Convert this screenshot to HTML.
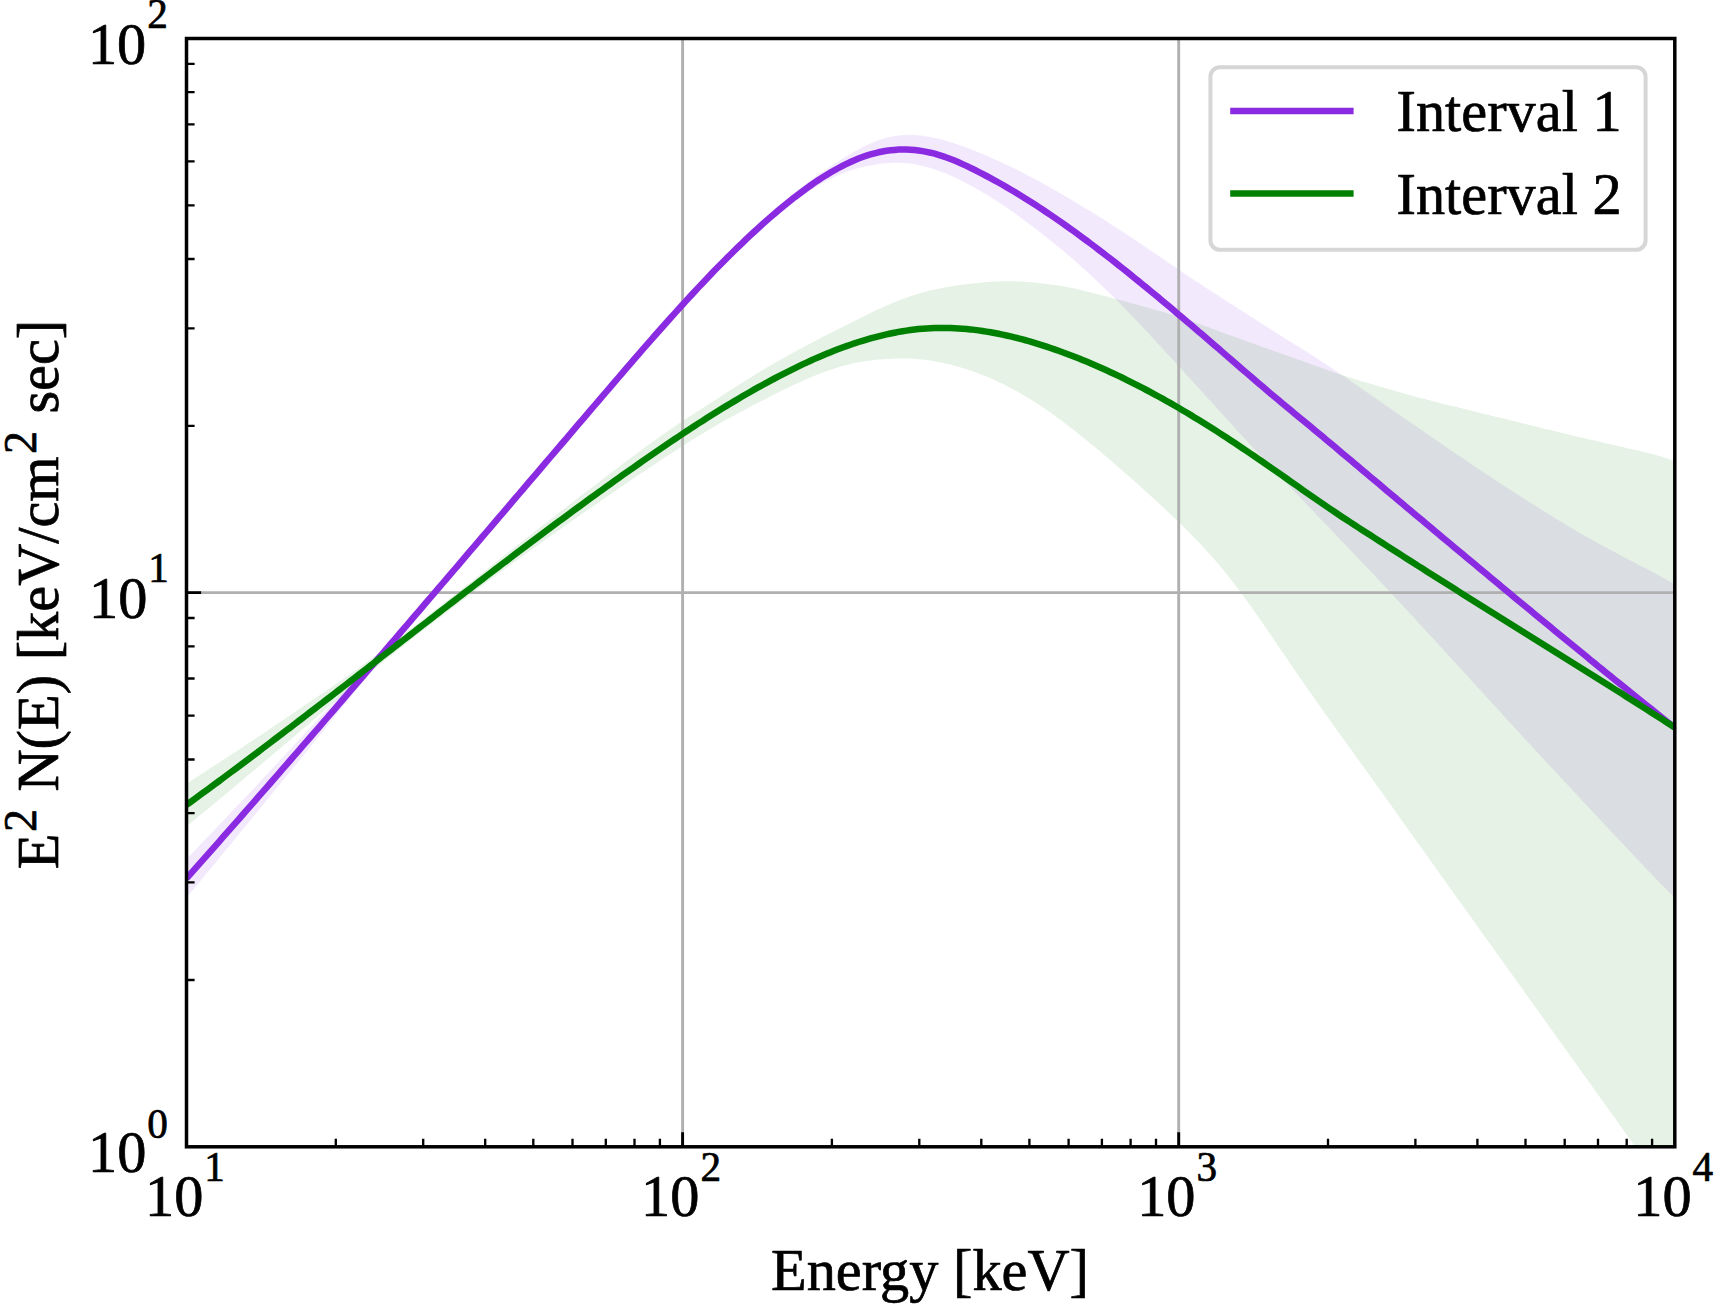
<!DOCTYPE html>
<html><head><meta charset="utf-8"><title>Energy spectrum</title>
<style>html,body{margin:0;padding:0;background:#fff}svg{display:block}text{font-family:"Liberation Serif","Times New Roman",serif;fill:#000;stroke:#000;stroke-width:0.7px;stroke-linejoin:round}</style>
</head><body>
<svg width="1718" height="1305" viewBox="0 0 1718 1305">
<rect width="1718" height="1305" fill="#fff"/>
<defs><clipPath id="ax"><rect x="186.5" y="38.5" width="1488.3" height="1108.3"/></clipPath></defs>
<g clip-path="url(#ax)">
<path d="M186.5,859.2 L190.5,854.9 L194.5,850.7 L198.5,846.5 L202.5,842.3 L206.5,838.1 L210.5,834.0 L214.5,829.8 L218.5,825.6 L222.5,821.4 L226.5,817.2 L230.5,813.0 L234.5,808.8 L238.5,804.6 L242.5,800.4 L246.5,796.2 L250.5,791.9 L254.5,787.7 L258.5,783.4 L262.5,779.1 L266.5,774.8 L270.5,770.5 L274.5,766.2 L278.5,761.9 L282.5,757.6 L286.5,753.3 L290.5,748.9 L294.5,744.6 L298.5,740.3 L302.5,736.0 L306.5,731.7 L310.5,727.4 L314.5,723.1 L318.5,718.8 L322.5,714.6 L326.5,710.3 L330.5,706.0 L334.5,701.7 L338.5,697.4 L342.5,693.1 L346.5,688.8 L350.5,684.4 L354.5,680.1 L358.5,675.7 L362.5,671.2 L366.5,666.8 L370.5,662.3 L374.5,657.8 L378.5,653.3 L382.5,648.7 L386.5,644.2 L390.5,639.6 L394.5,635.0 L398.5,630.4 L402.5,625.8 L406.5,621.2 L410.5,616.6 L414.5,612.0 L418.5,607.4 L422.5,602.8 L426.5,598.1 L430.5,593.5 L434.5,588.9 L438.5,584.2 L442.5,579.6 L446.5,574.9 L450.5,570.3 L454.5,565.6 L458.5,561.0 L462.5,556.3 L466.5,551.7 L470.5,547.0 L474.5,542.4 L478.5,537.7 L482.5,533.0 L486.5,528.4 L490.5,523.7 L494.5,519.0 L498.5,514.4 L502.5,509.7 L506.5,505.0 L510.5,500.3 L514.5,495.7 L518.5,491.0 L522.5,486.3 L526.5,481.6 L530.5,476.9 L534.5,472.3 L538.5,467.6 L542.5,462.9 L546.5,458.2 L550.5,453.5 L554.5,448.8 L558.5,444.1 L562.5,439.5 L566.5,434.8 L570.5,430.1 L574.5,425.4 L578.5,420.7 L582.5,416.1 L586.5,411.4 L590.5,406.7 L594.5,402.0 L598.5,397.3 L602.5,392.7 L606.5,388.0 L610.5,383.3 L614.5,378.7 L618.5,374.0 L622.5,369.3 L626.5,364.7 L630.5,360.1 L634.5,355.4 L638.5,350.8 L642.5,346.2 L646.5,341.6 L650.5,337.1 L654.5,332.5 L658.5,328.0 L662.5,323.4 L666.5,318.9 L670.5,314.5 L674.5,310.0 L678.5,305.6 L682.5,301.1 L686.5,296.8 L690.5,292.4 L694.5,288.1 L698.5,283.8 L702.5,279.5 L706.5,275.2 L710.5,271.0 L714.5,266.9 L718.5,262.7 L722.5,258.6 L726.5,254.6 L730.5,250.6 L734.5,246.6 L738.5,242.7 L742.5,238.8 L746.5,234.9 L750.5,231.1 L754.5,227.4 L758.5,223.7 L762.5,220.0 L766.5,216.4 L770.5,212.9 L774.5,209.4 L778.5,205.9 L782.5,202.5 L786.5,199.2 L790.5,195.9 L794.5,192.7 L798.5,189.5 L802.5,186.4 L806.5,183.4 L810.5,180.4 L814.5,177.5 L818.5,174.6 L822.5,171.8 L826.5,169.0 L830.5,166.4 L834.5,163.7 L838.5,161.2 L842.5,158.7 L846.5,156.2 L850.5,153.9 L854.5,151.6 L858.5,149.4 L862.5,147.3 L866.5,145.3 L870.5,143.5 L874.5,141.8 L878.5,140.3 L882.5,139.0 L886.5,137.8 L890.5,136.9 L894.5,136.1 L898.5,135.5 L902.5,135.1 L906.5,134.9 L910.5,134.9 L914.5,135.0 L918.5,135.3 L922.5,135.8 L926.5,136.4 L930.5,137.1 L934.5,137.9 L938.5,138.8 L942.5,139.8 L946.5,141.0 L950.5,142.2 L954.5,143.4 L958.5,144.8 L962.5,146.2 L966.5,147.6 L970.5,149.2 L974.5,150.7 L978.5,152.3 L982.5,154.0 L986.5,155.7 L990.5,157.4 L994.5,159.2 L998.5,161.0 L1002.5,162.8 L1006.5,164.7 L1010.5,166.6 L1014.5,168.6 L1018.5,170.6 L1022.5,172.6 L1026.5,174.7 L1030.5,176.8 L1034.5,178.9 L1038.5,181.1 L1042.5,183.2 L1046.5,185.5 L1050.5,187.7 L1054.5,190.0 L1058.5,192.2 L1062.5,194.6 L1066.5,196.9 L1070.5,199.2 L1074.5,201.6 L1078.5,204.0 L1082.5,206.4 L1086.5,208.9 L1090.5,211.3 L1094.5,213.8 L1098.5,216.3 L1102.5,218.8 L1106.5,221.3 L1110.5,223.9 L1114.5,226.5 L1118.5,229.1 L1122.5,231.7 L1126.5,234.3 L1130.5,237.0 L1134.5,239.6 L1138.5,242.3 L1142.5,245.0 L1146.5,247.7 L1150.5,250.4 L1154.5,253.1 L1158.5,255.8 L1162.5,258.5 L1166.5,261.3 L1170.5,264.0 L1174.5,266.7 L1178.5,269.5 L1182.5,272.2 L1186.5,274.9 L1190.5,277.5 L1194.5,280.2 L1198.5,282.8 L1202.5,285.5 L1206.5,288.1 L1210.5,290.7 L1214.5,293.2 L1218.5,295.8 L1222.5,298.4 L1226.5,300.9 L1230.5,303.5 L1234.5,306.1 L1238.5,308.7 L1242.5,311.2 L1246.5,313.8 L1250.5,316.4 L1254.5,319.0 L1258.5,321.5 L1262.5,324.1 L1266.5,326.6 L1270.5,329.2 L1274.5,331.7 L1278.5,334.2 L1282.5,336.7 L1286.5,339.2 L1290.5,341.7 L1294.5,344.2 L1298.5,346.7 L1302.5,349.2 L1306.5,351.7 L1310.5,354.2 L1314.5,356.8 L1318.5,359.4 L1322.5,362.0 L1326.5,364.6 L1330.5,367.3 L1334.5,370.0 L1338.5,372.7 L1342.5,375.4 L1346.5,378.1 L1350.5,380.9 L1354.5,383.6 L1358.5,386.4 L1362.5,389.2 L1366.5,392.0 L1370.5,394.8 L1374.5,397.6 L1378.5,400.3 L1382.5,403.1 L1386.5,405.9 L1390.5,408.7 L1394.5,411.5 L1398.5,414.3 L1402.5,417.1 L1406.5,419.8 L1410.5,422.6 L1414.5,425.3 L1418.5,428.1 L1422.5,430.8 L1426.5,433.6 L1430.5,436.3 L1434.5,439.1 L1438.5,441.8 L1442.5,444.5 L1446.5,447.3 L1450.5,450.0 L1454.5,452.7 L1458.5,455.4 L1462.5,458.1 L1466.5,460.8 L1470.5,463.5 L1474.5,466.2 L1478.5,468.9 L1482.5,471.5 L1486.5,474.2 L1490.5,476.8 L1494.5,479.5 L1498.5,482.1 L1502.5,484.7 L1506.5,487.3 L1510.5,489.9 L1514.5,492.5 L1518.5,495.1 L1522.5,497.6 L1526.5,500.2 L1530.5,502.8 L1534.5,505.3 L1538.5,507.8 L1542.5,510.3 L1546.5,512.8 L1550.5,515.3 L1554.5,517.8 L1558.5,520.2 L1562.5,522.6 L1566.5,525.1 L1570.5,527.4 L1574.5,529.8 L1578.5,532.2 L1582.5,534.5 L1586.5,536.8 L1590.5,539.0 L1594.5,541.3 L1598.5,543.5 L1602.5,545.7 L1606.5,547.8 L1610.5,550.0 L1614.5,552.1 L1618.5,554.3 L1622.5,556.4 L1626.5,558.5 L1630.5,560.5 L1634.5,562.6 L1638.5,564.7 L1642.5,566.8 L1646.5,568.8 L1650.5,570.9 L1654.5,573.0 L1658.5,575.2 L1662.5,577.4 L1666.5,579.7 L1670.5,582.1 L1674.5,584.6 L1674.8,584.4 L1674.8,897.9 L1674.5,897.2 L1670.5,893.5 L1666.5,889.6 L1662.5,885.6 L1658.5,881.5 L1654.5,877.3 L1650.5,873.1 L1646.5,868.9 L1642.5,864.7 L1638.5,860.5 L1634.5,856.2 L1630.5,852.0 L1626.5,847.8 L1622.5,843.5 L1618.5,839.3 L1614.5,835.0 L1610.5,830.7 L1606.5,826.5 L1602.5,822.2 L1598.5,818.0 L1594.5,813.7 L1590.5,809.4 L1586.5,805.1 L1582.5,800.9 L1578.5,796.6 L1574.5,792.3 L1570.5,788.0 L1566.5,783.7 L1562.5,779.4 L1558.5,775.1 L1554.5,770.8 L1550.5,766.5 L1546.5,762.2 L1542.5,757.9 L1538.5,753.6 L1534.5,749.2 L1530.5,744.9 L1526.5,740.6 L1522.5,736.3 L1518.5,731.9 L1514.5,727.6 L1510.5,723.2 L1506.5,718.9 L1502.5,714.5 L1498.5,710.1 L1494.5,705.8 L1490.5,701.4 L1486.5,697.0 L1482.5,692.6 L1478.5,688.3 L1474.5,683.9 L1470.5,679.5 L1466.5,675.1 L1462.5,670.7 L1458.5,666.3 L1454.5,662.0 L1450.5,657.6 L1446.5,653.2 L1442.5,648.8 L1438.5,644.5 L1434.5,640.1 L1430.5,635.7 L1426.5,631.4 L1422.5,627.0 L1418.5,622.7 L1414.5,618.3 L1410.5,614.0 L1406.5,609.7 L1402.5,605.4 L1398.5,601.1 L1394.5,596.8 L1390.5,592.5 L1386.5,588.2 L1382.5,584.0 L1378.5,579.7 L1374.5,575.5 L1370.5,571.3 L1366.5,567.1 L1362.5,562.9 L1358.5,558.7 L1354.5,554.5 L1350.5,550.3 L1346.5,546.1 L1342.5,541.9 L1338.5,537.7 L1334.5,533.5 L1330.5,529.3 L1326.5,525.1 L1322.5,520.9 L1318.5,516.7 L1314.5,512.5 L1310.5,508.3 L1306.5,504.2 L1302.5,500.0 L1298.5,495.8 L1294.5,491.7 L1290.5,487.5 L1286.5,483.3 L1282.5,479.1 L1278.5,474.9 L1274.5,470.7 L1270.5,466.5 L1266.5,462.2 L1262.5,457.9 L1258.5,453.6 L1254.5,449.3 L1250.5,445.0 L1246.5,440.6 L1242.5,436.3 L1238.5,431.9 L1234.5,427.5 L1230.5,423.1 L1226.5,418.7 L1222.5,414.3 L1218.5,409.9 L1214.5,405.5 L1210.5,401.1 L1206.5,396.7 L1202.5,392.3 L1198.5,387.9 L1194.5,383.5 L1190.5,379.1 L1186.5,374.7 L1182.5,370.3 L1178.5,366.0 L1174.5,361.6 L1170.5,357.2 L1166.5,352.9 L1162.5,348.5 L1158.5,344.2 L1154.5,339.9 L1150.5,335.6 L1146.5,331.3 L1142.5,327.0 L1138.5,322.8 L1134.5,318.6 L1130.5,314.4 L1126.5,310.3 L1122.5,306.2 L1118.5,302.1 L1114.5,298.1 L1110.5,294.1 L1106.5,290.2 L1102.5,286.3 L1098.5,282.5 L1094.5,278.7 L1090.5,275.0 L1086.5,271.3 L1082.5,267.7 L1078.5,264.1 L1074.5,260.6 L1070.5,257.1 L1066.5,253.7 L1062.5,250.3 L1058.5,247.0 L1054.5,243.8 L1050.5,240.5 L1046.5,237.4 L1042.5,234.2 L1038.5,231.1 L1034.5,228.0 L1030.5,224.9 L1026.5,221.9 L1022.5,218.9 L1018.5,216.0 L1014.5,213.1 L1010.5,210.3 L1006.5,207.6 L1002.5,204.9 L998.5,202.2 L994.5,199.6 L990.5,197.1 L986.5,194.6 L982.5,192.2 L978.5,189.9 L974.5,187.6 L970.5,185.4 L966.5,183.3 L962.5,181.2 L958.5,179.2 L954.5,177.3 L950.5,175.5 L946.5,173.8 L942.5,172.2 L938.5,170.7 L934.5,169.3 L930.5,168.0 L926.5,166.9 L922.5,165.9 L918.5,165.0 L914.5,164.2 L910.5,163.6 L906.5,163.2 L902.5,162.9 L898.5,162.8 L894.5,162.8 L890.5,162.9 L886.5,163.2 L882.5,163.6 L878.5,164.1 L874.5,164.7 L870.5,165.4 L866.5,166.2 L862.5,167.1 L858.5,168.1 L854.5,169.2 L850.5,170.4 L846.5,171.8 L842.5,173.4 L838.5,175.0 L834.5,176.9 L830.5,178.9 L826.5,181.0 L822.5,183.2 L818.5,185.6 L814.5,188.0 L810.5,190.6 L806.5,193.3 L802.5,196.1 L798.5,199.0 L794.5,202.0 L790.5,205.1 L786.5,208.2 L782.5,211.4 L778.5,214.7 L774.5,218.0 L770.5,221.4 L766.5,224.9 L762.5,228.4 L758.5,231.9 L754.5,235.6 L750.5,239.2 L746.5,243.0 L742.5,246.7 L738.5,250.6 L734.5,254.4 L730.5,258.3 L726.5,262.3 L722.5,266.3 L718.5,270.3 L714.5,274.4 L710.5,278.5 L706.5,282.7 L702.5,286.9 L698.5,291.1 L694.5,295.4 L690.5,299.7 L686.5,304.0 L682.5,308.3 L678.5,312.7 L674.5,317.1 L670.5,321.6 L666.5,326.0 L662.5,330.5 L658.5,335.0 L654.5,339.5 L650.5,344.1 L646.5,348.6 L642.5,353.2 L638.5,357.8 L634.5,362.4 L630.5,367.1 L626.5,371.7 L622.5,376.3 L618.5,381.0 L614.5,385.7 L610.5,390.3 L606.5,395.0 L602.5,399.7 L598.5,404.3 L594.5,409.0 L590.5,413.7 L586.5,418.4 L582.5,423.1 L578.5,427.7 L574.5,432.4 L570.5,437.1 L566.5,441.8 L562.5,446.5 L558.5,451.1 L554.5,455.8 L550.5,460.5 L546.5,465.2 L542.5,469.9 L538.5,474.6 L534.5,479.3 L530.5,484.0 L526.5,488.6 L522.5,493.3 L518.5,498.0 L514.5,502.7 L510.5,507.4 L506.5,512.1 L502.5,516.8 L498.5,521.5 L494.5,526.2 L490.5,530.9 L486.5,535.6 L482.5,540.3 L478.5,545.1 L474.5,549.8 L470.5,554.5 L466.5,559.2 L462.5,563.9 L458.5,568.6 L454.5,573.3 L450.5,578.0 L446.5,582.7 L442.5,587.4 L438.5,592.2 L434.5,596.9 L430.5,601.6 L426.5,606.3 L422.5,611.0 L418.5,615.7 L414.5,620.5 L410.5,625.2 L406.5,629.9 L402.5,634.6 L398.5,639.4 L394.5,644.1 L390.5,648.8 L386.5,653.6 L382.5,658.4 L378.5,663.1 L374.5,667.9 L370.5,672.7 L366.5,677.5 L362.5,682.4 L358.5,687.2 L354.5,692.1 L350.5,697.0 L346.5,701.9 L342.5,706.9 L338.5,711.8 L334.5,716.8 L330.5,721.8 L326.5,726.8 L322.5,731.7 L318.5,736.7 L314.5,741.7 L310.5,746.6 L306.5,751.6 L302.5,756.5 L298.5,761.4 L294.5,766.3 L290.5,771.2 L286.5,776.1 L282.5,781.0 L278.5,785.9 L274.5,790.8 L270.5,795.6 L266.5,800.5 L262.5,805.4 L258.5,810.3 L254.5,815.2 L250.5,820.0 L246.5,824.9 L242.5,829.8 L238.5,834.7 L234.5,839.5 L230.5,844.4 L226.5,849.3 L222.5,854.1 L218.5,859.0 L214.5,863.9 L210.5,868.7 L206.5,873.6 L202.5,878.4 L198.5,883.2 L194.5,888.0 L190.5,892.7 L186.5,897.4Z" fill="#8a2be2" fill-opacity="0.1"/>
<path d="M186.5,783.9 L190.5,781.2 L194.5,778.5 L198.5,775.9 L202.5,773.3 L206.5,770.7 L210.5,768.1 L214.5,765.5 L218.5,762.9 L222.5,760.3 L226.5,757.7 L230.5,755.1 L234.5,752.5 L238.5,749.9 L242.5,747.2 L246.5,744.6 L250.5,741.9 L254.5,739.3 L258.5,736.6 L262.5,733.9 L266.5,731.2 L270.5,728.5 L274.5,725.8 L278.5,723.1 L282.5,720.4 L286.5,717.7 L290.5,715.0 L294.5,712.3 L298.5,709.5 L302.5,706.8 L306.5,704.1 L310.5,701.4 L314.5,698.7 L318.5,696.0 L322.5,693.2 L326.5,690.5 L330.5,687.8 L334.5,685.1 L338.5,682.3 L342.5,679.5 L346.5,676.7 L350.5,673.9 L354.5,671.1 L358.5,668.2 L362.5,665.3 L366.5,662.4 L370.5,659.4 L374.5,656.4 L378.5,653.4 L382.5,650.4 L386.5,647.4 L390.5,644.4 L394.5,641.3 L398.5,638.2 L402.5,635.2 L406.5,632.1 L410.5,629.0 L414.5,625.9 L418.5,622.9 L422.5,619.7 L426.5,616.6 L430.5,613.5 L434.5,610.4 L438.5,607.3 L442.5,604.1 L446.5,601.0 L450.5,597.9 L454.5,594.7 L458.5,591.6 L462.5,588.4 L466.5,585.3 L470.5,582.2 L474.5,579.0 L478.5,575.9 L482.5,572.7 L486.5,569.6 L490.5,566.4 L494.5,563.3 L498.5,560.1 L502.5,557.0 L506.5,553.8 L510.5,550.6 L514.5,547.5 L518.5,544.3 L522.5,541.2 L526.5,538.1 L530.5,534.9 L534.5,531.8 L538.5,528.6 L542.5,525.5 L546.5,522.4 L550.5,519.3 L554.5,516.2 L558.5,513.1 L562.5,510.0 L566.5,506.9 L570.5,503.8 L574.5,500.7 L578.5,497.6 L582.5,494.6 L586.5,491.5 L590.5,488.5 L594.5,485.4 L598.5,482.4 L602.5,479.3 L606.5,476.3 L610.5,473.2 L614.5,470.2 L618.5,467.2 L622.5,464.1 L626.5,461.1 L630.5,458.1 L634.5,455.2 L638.5,452.2 L642.5,449.2 L646.5,446.3 L650.5,443.4 L654.5,440.5 L658.5,437.7 L662.5,434.8 L666.5,432.0 L670.5,429.3 L674.5,426.5 L678.5,423.8 L682.5,421.2 L686.5,418.5 L690.5,415.9 L694.5,413.3 L698.5,410.7 L702.5,408.2 L706.5,405.6 L710.5,403.0 L714.5,400.4 L718.5,397.9 L722.5,395.3 L726.5,392.7 L730.5,390.1 L734.5,387.5 L738.5,385.0 L742.5,382.5 L746.5,380.0 L750.5,377.5 L754.5,375.0 L758.5,372.6 L762.5,370.2 L766.5,367.8 L770.5,365.5 L774.5,363.1 L778.5,360.9 L782.5,358.6 L786.5,356.4 L790.5,354.1 L794.5,352.0 L798.5,349.8 L802.5,347.7 L806.5,345.5 L810.5,343.4 L814.5,341.3 L818.5,339.2 L822.5,337.1 L826.5,335.0 L830.5,333.0 L834.5,330.9 L838.5,328.9 L842.5,326.9 L846.5,324.9 L850.5,322.9 L854.5,320.9 L858.5,318.9 L862.5,316.9 L866.5,314.9 L870.5,313.0 L874.5,311.1 L878.5,309.2 L882.5,307.4 L886.5,305.6 L890.5,303.9 L894.5,302.3 L898.5,300.7 L902.5,299.1 L906.5,297.7 L910.5,296.3 L914.5,294.9 L918.5,293.7 L922.5,292.5 L926.5,291.4 L930.5,290.5 L934.5,289.5 L938.5,288.7 L942.5,287.9 L946.5,287.2 L950.5,286.5 L954.5,285.9 L958.5,285.3 L962.5,284.8 L966.5,284.3 L970.5,283.8 L974.5,283.3 L978.5,282.9 L982.5,282.5 L986.5,282.1 L990.5,281.8 L994.5,281.6 L998.5,281.4 L1002.5,281.3 L1006.5,281.2 L1010.5,281.2 L1014.5,281.3 L1018.5,281.4 L1022.5,281.6 L1026.5,281.9 L1030.5,282.2 L1034.5,282.6 L1038.5,283.0 L1042.5,283.4 L1046.5,283.9 L1050.5,284.4 L1054.5,285.0 L1058.5,285.6 L1062.5,286.3 L1066.5,287.0 L1070.5,287.8 L1074.5,288.6 L1078.5,289.5 L1082.5,290.4 L1086.5,291.4 L1090.5,292.3 L1094.5,293.4 L1098.5,294.4 L1102.5,295.5 L1106.5,296.5 L1110.5,297.6 L1114.5,298.7 L1118.5,299.7 L1122.5,300.8 L1126.5,301.8 L1130.5,302.9 L1134.5,304.0 L1138.5,305.1 L1142.5,306.2 L1146.5,307.3 L1150.5,308.4 L1154.5,309.5 L1158.5,310.7 L1162.5,311.8 L1166.5,313.0 L1170.5,314.2 L1174.5,315.5 L1178.5,316.8 L1182.5,318.1 L1186.5,319.4 L1190.5,320.8 L1194.5,322.2 L1198.5,323.6 L1202.5,325.1 L1206.5,326.5 L1210.5,328.0 L1214.5,329.5 L1218.5,331.0 L1222.5,332.4 L1226.5,333.9 L1230.5,335.4 L1234.5,336.8 L1238.5,338.3 L1242.5,339.7 L1246.5,341.2 L1250.5,342.6 L1254.5,344.0 L1258.5,345.5 L1262.5,346.9 L1266.5,348.3 L1270.5,349.8 L1274.5,351.2 L1278.5,352.6 L1282.5,354.0 L1286.5,355.4 L1290.5,356.8 L1294.5,358.3 L1298.5,359.7 L1302.5,361.1 L1306.5,362.6 L1310.5,364.0 L1314.5,365.4 L1318.5,366.8 L1322.5,368.2 L1326.5,369.6 L1330.5,371.0 L1334.5,372.4 L1338.5,373.8 L1342.5,375.1 L1346.5,376.4 L1350.5,377.7 L1354.5,378.9 L1358.5,380.2 L1362.5,381.4 L1366.5,382.6 L1370.5,383.8 L1374.5,385.0 L1378.5,386.2 L1382.5,387.3 L1386.5,388.5 L1390.5,389.7 L1394.5,390.8 L1398.5,392.0 L1402.5,393.1 L1406.5,394.2 L1410.5,395.3 L1414.5,396.4 L1418.5,397.5 L1422.5,398.5 L1426.5,399.6 L1430.5,400.6 L1434.5,401.6 L1438.5,402.7 L1442.5,403.7 L1446.5,404.7 L1450.5,405.7 L1454.5,406.6 L1458.5,407.6 L1462.5,408.6 L1466.5,409.6 L1470.5,410.5 L1474.5,411.5 L1478.5,412.5 L1482.5,413.5 L1486.5,414.4 L1490.5,415.4 L1494.5,416.4 L1498.5,417.4 L1502.5,418.3 L1506.5,419.3 L1510.5,420.3 L1514.5,421.3 L1518.5,422.3 L1522.5,423.3 L1526.5,424.3 L1530.5,425.2 L1534.5,426.2 L1538.5,427.2 L1542.5,428.2 L1546.5,429.2 L1550.5,430.1 L1554.5,431.1 L1558.5,432.1 L1562.5,433.1 L1566.5,434.0 L1570.5,435.0 L1574.5,435.9 L1578.5,436.9 L1582.5,437.8 L1586.5,438.7 L1590.5,439.7 L1594.5,440.6 L1598.5,441.5 L1602.5,442.4 L1606.5,443.4 L1610.5,444.3 L1614.5,445.2 L1618.5,446.1 L1622.5,447.0 L1626.5,448.0 L1630.5,448.9 L1634.5,449.8 L1638.5,450.7 L1642.5,451.7 L1646.5,452.7 L1650.5,453.6 L1654.5,454.7 L1658.5,455.7 L1662.5,456.9 L1666.5,458.2 L1670.5,459.7 L1674.5,461.3 L1674.8,460.8 L1674.8,1200.0 L1674.5,1198.4 L1670.5,1194.1 L1666.5,1189.4 L1662.5,1184.3 L1658.5,1179.0 L1654.5,1173.6 L1650.5,1168.1 L1646.5,1162.5 L1642.5,1156.9 L1638.5,1151.3 L1634.5,1145.7 L1630.5,1140.0 L1626.5,1134.4 L1622.5,1128.8 L1618.5,1123.2 L1614.5,1117.6 L1610.5,1112.0 L1606.5,1106.4 L1602.5,1100.8 L1598.5,1095.2 L1594.5,1089.7 L1590.5,1084.1 L1586.5,1078.5 L1582.5,1072.9 L1578.5,1067.3 L1574.5,1061.7 L1570.5,1056.2 L1566.5,1050.6 L1562.5,1045.0 L1558.5,1039.4 L1554.5,1033.9 L1550.5,1028.3 L1546.5,1022.7 L1542.5,1017.1 L1538.5,1011.5 L1534.5,1006.0 L1530.5,1000.4 L1526.5,994.8 L1522.5,989.2 L1518.5,983.6 L1514.5,978.1 L1510.5,972.5 L1506.5,966.9 L1502.5,961.3 L1498.5,955.7 L1494.5,950.1 L1490.5,944.6 L1486.5,939.0 L1482.5,933.4 L1478.5,927.8 L1474.5,922.2 L1470.5,916.6 L1466.5,911.0 L1462.5,905.5 L1458.5,899.9 L1454.5,894.3 L1450.5,888.7 L1446.5,883.1 L1442.5,877.5 L1438.5,871.9 L1434.5,866.3 L1430.5,860.7 L1426.5,855.1 L1422.5,849.5 L1418.5,843.9 L1414.5,838.3 L1410.5,832.7 L1406.5,827.1 L1402.5,821.4 L1398.5,815.8 L1394.5,810.2 L1390.5,804.6 L1386.5,799.0 L1382.5,793.4 L1378.5,787.8 L1374.5,782.2 L1370.5,776.6 L1366.5,771.1 L1362.5,765.5 L1358.5,760.0 L1354.5,754.4 L1350.5,748.9 L1346.5,743.3 L1342.5,737.8 L1338.5,732.2 L1334.5,726.7 L1330.5,721.1 L1326.5,715.5 L1322.5,709.9 L1318.5,704.3 L1314.5,698.6 L1310.5,693.0 L1306.5,687.2 L1302.5,681.5 L1298.5,675.7 L1294.5,669.8 L1290.5,664.0 L1286.5,658.1 L1282.5,652.2 L1278.5,646.4 L1274.5,640.5 L1270.5,634.6 L1266.5,628.8 L1262.5,623.0 L1258.5,617.2 L1254.5,611.4 L1250.5,605.8 L1246.5,600.2 L1242.5,594.7 L1238.5,589.4 L1234.5,584.1 L1230.5,579.0 L1226.5,574.0 L1222.5,569.1 L1218.5,564.3 L1214.5,559.6 L1210.5,555.1 L1206.5,550.7 L1202.5,546.3 L1198.5,542.1 L1194.5,537.9 L1190.5,533.8 L1186.5,529.8 L1182.5,525.8 L1178.5,521.9 L1174.5,518.0 L1170.5,514.2 L1166.5,510.4 L1162.5,506.7 L1158.5,503.0 L1154.5,499.3 L1150.5,495.7 L1146.5,492.0 L1142.5,488.4 L1138.5,484.8 L1134.5,481.3 L1130.5,477.7 L1126.5,474.2 L1122.5,470.7 L1118.5,467.2 L1114.5,463.7 L1110.5,460.3 L1106.5,456.9 L1102.5,453.5 L1098.5,450.1 L1094.5,446.8 L1090.5,443.5 L1086.5,440.2 L1082.5,437.0 L1078.5,433.8 L1074.5,430.6 L1070.5,427.5 L1066.5,424.4 L1062.5,421.3 L1058.5,418.4 L1054.5,415.4 L1050.5,412.6 L1046.5,409.8 L1042.5,407.0 L1038.5,404.4 L1034.5,401.8 L1030.5,399.3 L1026.5,396.9 L1022.5,394.5 L1018.5,392.2 L1014.5,390.0 L1010.5,387.9 L1006.5,385.8 L1002.5,383.8 L998.5,381.9 L994.5,380.1 L990.5,378.3 L986.5,376.6 L982.5,374.9 L978.5,373.4 L974.5,371.9 L970.5,370.5 L966.5,369.2 L962.5,367.9 L958.5,366.8 L954.5,365.7 L950.5,364.6 L946.5,363.7 L942.5,362.8 L938.5,362.0 L934.5,361.3 L930.5,360.6 L926.5,360.1 L922.5,359.6 L918.5,359.2 L914.5,358.9 L910.5,358.6 L906.5,358.5 L902.5,358.4 L898.5,358.4 L894.5,358.5 L890.5,358.7 L886.5,358.9 L882.5,359.2 L878.5,359.6 L874.5,360.0 L870.5,360.5 L866.5,361.0 L862.5,361.6 L858.5,362.3 L854.5,363.1 L850.5,364.0 L846.5,365.0 L842.5,366.1 L838.5,367.2 L834.5,368.5 L830.5,369.8 L826.5,371.2 L822.5,372.6 L818.5,374.2 L814.5,375.7 L810.5,377.4 L806.5,379.1 L802.5,380.9 L798.5,382.7 L794.5,384.6 L790.5,386.5 L786.5,388.4 L782.5,390.3 L778.5,392.3 L774.5,394.3 L770.5,396.3 L766.5,398.4 L762.5,400.4 L758.5,402.5 L754.5,404.5 L750.5,406.6 L746.5,408.7 L742.5,410.9 L738.5,413.0 L734.5,415.2 L730.5,417.4 L726.5,419.6 L722.5,421.8 L718.5,424.1 L714.5,426.4 L710.5,428.8 L706.5,431.2 L702.5,433.6 L698.5,436.1 L694.5,438.5 L690.5,441.1 L686.5,443.6 L682.5,446.1 L678.5,448.7 L674.5,451.3 L670.5,453.9 L666.5,456.5 L662.5,459.1 L658.5,461.7 L654.5,464.4 L650.5,467.0 L646.5,469.7 L642.5,472.4 L638.5,475.1 L634.5,477.8 L630.5,480.5 L626.5,483.2 L622.5,485.9 L618.5,488.6 L614.5,491.4 L610.5,494.1 L606.5,496.9 L602.5,499.6 L598.5,502.4 L594.5,505.2 L590.5,508.0 L586.5,510.8 L582.5,513.6 L578.5,516.4 L574.5,519.2 L570.5,522.0 L566.5,524.8 L562.5,527.6 L558.5,530.5 L554.5,533.3 L550.5,536.1 L546.5,539.0 L542.5,541.8 L538.5,544.7 L534.5,547.5 L530.5,550.4 L526.5,553.3 L522.5,556.2 L518.5,559.1 L514.5,562.0 L510.5,564.9 L506.5,567.8 L502.5,570.7 L498.5,573.6 L494.5,576.6 L490.5,579.5 L486.5,582.5 L482.5,585.4 L478.5,588.4 L474.5,591.4 L470.5,594.4 L466.5,597.4 L462.5,600.4 L458.5,603.4 L454.5,606.4 L450.5,609.4 L446.5,612.5 L442.5,615.5 L438.5,618.6 L434.5,621.6 L430.5,624.7 L426.5,627.8 L422.5,630.8 L418.5,633.9 L414.5,637.0 L410.5,640.2 L406.5,643.3 L402.5,646.4 L398.5,649.6 L394.5,652.7 L390.5,655.9 L386.5,659.0 L382.5,662.2 L378.5,665.4 L374.5,668.6 L370.5,671.8 L366.5,675.0 L362.5,678.3 L358.5,681.6 L354.5,684.9 L350.5,688.3 L346.5,691.6 L342.5,695.0 L338.5,698.4 L334.5,701.9 L330.5,705.3 L326.5,708.7 L322.5,712.2 L318.5,715.6 L314.5,719.1 L310.5,722.5 L306.5,725.9 L302.5,729.3 L298.5,732.7 L294.5,736.1 L290.5,739.5 L286.5,742.9 L282.5,746.3 L278.5,749.7 L274.5,753.1 L270.5,756.4 L266.5,759.8 L262.5,763.2 L258.5,766.5 L254.5,769.9 L250.5,773.3 L246.5,776.6 L242.5,780.0 L238.5,783.3 L234.5,786.7 L230.5,790.0 L226.5,793.4 L222.5,796.7 L218.5,800.0 L214.5,803.4 L210.5,806.7 L206.5,810.0 L202.5,813.3 L198.5,816.5 L194.5,819.7 L190.5,822.9 L186.5,826.0Z" fill="#008000" fill-opacity="0.1"/>

<line x1="682.6" x2="682.6" y1="38.5" y2="1146.8" stroke="#b0b0b0" stroke-width="2.9"/>
<line x1="1178.7" x2="1178.7" y1="38.5" y2="1146.8" stroke="#b0b0b0" stroke-width="2.9"/>
<line x1="186.5" x2="1674.8" y1="592.6" y2="592.6" stroke="#b0b0b0" stroke-width="2.9"/>
<path d="M186.5,878.4 L190.5,873.9 L194.5,869.4 L198.5,864.9 L202.5,860.4 L206.5,855.9 L210.5,851.3 L214.5,846.8 L218.5,842.3 L222.5,837.7 L226.5,833.2 L230.5,828.7 L234.5,824.1 L238.5,819.6 L242.5,815.0 L246.5,810.4 L250.5,805.9 L254.5,801.3 L258.5,796.7 L262.5,792.2 L266.5,787.6 L270.5,783.0 L274.5,778.4 L278.5,773.8 L282.5,769.2 L286.5,764.6 L290.5,760.0 L294.5,755.4 L298.5,750.8 L302.5,746.2 L306.5,741.6 L310.5,737.0 L314.5,732.4 L318.5,727.8 L322.5,723.2 L326.5,718.5 L330.5,713.9 L334.5,709.3 L338.5,704.6 L342.5,700.0 L346.5,695.4 L350.5,690.7 L354.5,686.1 L358.5,681.4 L362.5,676.8 L366.5,672.2 L370.5,667.5 L374.5,662.9 L378.5,658.2 L382.5,653.5 L386.5,648.9 L390.5,644.2 L394.5,639.6 L398.5,634.9 L402.5,630.2 L406.5,625.6 L410.5,620.9 L414.5,616.2 L418.5,611.6 L422.5,606.9 L426.5,602.2 L430.5,597.5 L434.5,592.9 L438.5,588.2 L442.5,583.5 L446.5,578.8 L450.5,574.2 L454.5,569.5 L458.5,564.8 L462.5,560.1 L466.5,555.4 L470.5,550.7 L474.5,546.1 L478.5,541.4 L482.5,536.7 L486.5,532.0 L490.5,527.3 L494.5,522.6 L498.5,517.9 L502.5,513.3 L506.5,508.6 L510.5,503.9 L514.5,499.2 L518.5,494.5 L522.5,489.8 L526.5,485.1 L530.5,480.4 L534.5,475.8 L538.5,471.1 L542.5,466.4 L546.5,461.7 L550.5,457.0 L554.5,452.3 L558.5,447.6 L562.5,443.0 L566.5,438.3 L570.5,433.6 L574.5,428.9 L578.5,424.2 L582.5,419.6 L586.5,414.9 L590.5,410.2 L594.5,405.5 L598.5,400.8 L602.5,396.2 L606.5,391.5 L610.5,386.8 L614.5,382.2 L618.5,377.5 L622.5,372.8 L626.5,368.2 L630.5,363.6 L634.5,358.9 L638.5,354.3 L642.5,349.7 L646.5,345.1 L650.5,340.6 L654.5,336.0 L658.5,331.5 L662.5,327.0 L666.5,322.5 L670.5,318.0 L674.5,313.6 L678.5,309.1 L682.5,304.7 L686.5,300.4 L690.5,296.0 L694.5,291.7 L698.5,287.4 L702.5,283.2 L706.5,279.0 L710.5,274.8 L714.5,270.6 L718.5,266.5 L722.5,262.5 L726.5,258.4 L730.5,254.5 L734.5,250.5 L738.5,246.6 L742.5,242.8 L746.5,238.9 L750.5,235.2 L754.5,231.5 L758.5,227.8 L762.5,224.2 L766.5,220.6 L770.5,217.1 L774.5,213.7 L778.5,210.3 L782.5,207.0 L786.5,203.7 L790.5,200.5 L794.5,197.3 L798.5,194.3 L802.5,191.3 L806.5,188.3 L810.5,185.5 L814.5,182.7 L818.5,180.0 L822.5,177.4 L826.5,174.9 L830.5,172.5 L834.5,170.2 L838.5,168.0 L842.5,165.9 L846.5,163.9 L850.5,162.0 L854.5,160.2 L858.5,158.5 L862.5,157.0 L866.5,155.6 L870.5,154.4 L874.5,153.3 L878.5,152.3 L882.5,151.5 L886.5,150.8 L890.5,150.3 L894.5,149.9 L898.5,149.6 L902.5,149.5 L906.5,149.6 L910.5,149.8 L914.5,150.1 L918.5,150.5 L922.5,151.1 L926.5,151.9 L930.5,152.7 L934.5,153.7 L938.5,154.9 L942.5,156.1 L946.5,157.5 L950.5,159.0 L954.5,160.6 L958.5,162.3 L962.5,164.1 L966.5,165.9 L970.5,167.9 L974.5,169.8 L978.5,171.8 L982.5,173.9 L986.5,176.0 L990.5,178.1 L994.5,180.3 L998.5,182.5 L1002.5,184.8 L1006.5,187.1 L1010.5,189.5 L1014.5,191.8 L1018.5,194.3 L1022.5,196.7 L1026.5,199.2 L1030.5,201.7 L1034.5,204.3 L1038.5,206.9 L1042.5,209.5 L1046.5,212.2 L1050.5,214.9 L1054.5,217.6 L1058.5,220.4 L1062.5,223.2 L1066.5,226.0 L1070.5,228.9 L1074.5,231.7 L1078.5,234.6 L1082.5,237.6 L1086.5,240.5 L1090.5,243.5 L1094.5,246.5 L1098.5,249.6 L1102.5,252.6 L1106.5,255.7 L1110.5,258.8 L1114.5,261.9 L1118.5,265.1 L1122.5,268.3 L1126.5,271.4 L1130.5,274.6 L1134.5,277.9 L1138.5,281.1 L1142.5,284.4 L1146.5,287.6 L1150.5,290.9 L1154.5,294.2 L1158.5,297.6 L1162.5,300.9 L1166.5,304.2 L1170.5,307.6 L1174.5,311.0 L1178.5,314.4 L1182.5,317.8 L1186.5,321.2 L1190.5,324.6 L1194.5,328.0 L1198.5,331.4 L1202.5,334.8 L1206.5,338.3 L1210.5,341.7 L1214.5,345.2 L1218.5,348.6 L1222.5,352.1 L1226.5,355.6 L1230.5,359.0 L1234.5,362.5 L1238.5,366.0 L1242.5,369.4 L1246.5,372.9 L1250.5,376.3 L1254.5,379.8 L1258.5,383.2 L1262.5,386.6 L1266.5,390.0 L1270.5,393.4 L1274.5,396.7 L1278.5,400.1 L1282.5,403.4 L1286.5,406.7 L1290.5,410.1 L1294.5,413.4 L1298.5,416.7 L1302.5,420.0 L1306.5,423.3 L1310.5,426.6 L1314.5,429.9 L1318.5,433.2 L1322.5,436.6 L1326.5,439.9 L1330.5,443.3 L1334.5,446.6 L1338.5,450.0 L1342.5,453.4 L1346.5,456.7 L1350.5,460.1 L1354.5,463.5 L1358.5,466.8 L1362.5,470.2 L1366.5,473.6 L1370.5,476.9 L1374.5,480.3 L1378.5,483.6 L1382.5,487.0 L1386.5,490.4 L1390.5,493.7 L1394.5,497.1 L1398.5,500.5 L1402.5,503.8 L1406.5,507.2 L1410.5,510.5 L1414.5,513.9 L1418.5,517.2 L1422.5,520.6 L1426.5,523.9 L1430.5,527.3 L1434.5,530.7 L1438.5,534.0 L1442.5,537.4 L1446.5,540.7 L1450.5,544.0 L1454.5,547.4 L1458.5,550.7 L1462.5,554.1 L1466.5,557.4 L1470.5,560.8 L1474.5,564.1 L1478.5,567.4 L1482.5,570.8 L1486.5,574.1 L1490.5,577.4 L1494.5,580.7 L1498.5,584.1 L1502.5,587.4 L1506.5,590.7 L1510.5,594.0 L1514.5,597.4 L1518.5,600.7 L1522.5,604.0 L1526.5,607.3 L1530.5,610.6 L1534.5,613.9 L1538.5,617.2 L1542.5,620.5 L1546.5,623.8 L1550.5,627.1 L1554.5,630.4 L1558.5,633.7 L1562.5,637.0 L1566.5,640.2 L1570.5,643.5 L1574.5,646.8 L1578.5,650.1 L1582.5,653.3 L1586.5,656.6 L1590.5,659.9 L1594.5,663.1 L1598.5,666.4 L1602.5,669.6 L1606.5,672.9 L1610.5,676.1 L1614.5,679.4 L1618.5,682.6 L1622.5,685.8 L1626.5,689.1 L1630.5,692.3 L1634.5,695.5 L1638.5,698.7 L1642.5,702.0 L1646.5,705.2 L1650.5,708.4 L1654.5,711.6 L1658.5,714.8 L1662.5,718.0 L1666.5,721.2 L1670.5,724.3 L1674.5,727.5 L1674.8,727.8" fill="none" stroke="#8a2be2" stroke-width="6.5" stroke-linejoin="round"/>
<path d="M186.5,804.9 L190.5,802.0 L194.5,799.1 L198.5,796.2 L202.5,793.2 L206.5,790.3 L210.5,787.4 L214.5,784.4 L218.5,781.5 L222.5,778.5 L226.5,775.5 L230.5,772.5 L234.5,769.6 L238.5,766.6 L242.5,763.6 L246.5,760.6 L250.5,757.6 L254.5,754.6 L258.5,751.6 L262.5,748.5 L266.5,745.5 L270.5,742.5 L274.5,739.4 L278.5,736.4 L282.5,733.4 L286.5,730.3 L290.5,727.3 L294.5,724.2 L298.5,721.1 L302.5,718.1 L306.5,715.0 L310.5,711.9 L314.5,708.9 L318.5,705.8 L322.5,702.7 L326.5,699.6 L330.5,696.6 L334.5,693.5 L338.5,690.4 L342.5,687.3 L346.5,684.2 L350.5,681.1 L354.5,678.0 L358.5,674.9 L362.5,671.8 L366.5,668.7 L370.5,665.6 L374.5,662.5 L378.5,659.4 L382.5,656.3 L386.5,653.2 L390.5,650.1 L394.5,647.0 L398.5,643.9 L402.5,640.8 L406.5,637.7 L410.5,634.6 L414.5,631.5 L418.5,628.4 L422.5,625.3 L426.5,622.2 L430.5,619.1 L434.5,616.0 L438.5,612.9 L442.5,609.8 L446.5,606.7 L450.5,603.7 L454.5,600.6 L458.5,597.5 L462.5,594.4 L466.5,591.3 L470.5,588.3 L474.5,585.2 L478.5,582.1 L482.5,579.1 L486.5,576.0 L490.5,573.0 L494.5,569.9 L498.5,566.9 L502.5,563.8 L506.5,560.8 L510.5,557.7 L514.5,554.7 L518.5,551.7 L522.5,548.7 L526.5,545.6 L530.5,542.6 L534.5,539.6 L538.5,536.6 L542.5,533.6 L546.5,530.7 L550.5,527.7 L554.5,524.7 L558.5,521.7 L562.5,518.8 L566.5,515.8 L570.5,512.9 L574.5,509.9 L578.5,507.0 L582.5,504.1 L586.5,501.2 L590.5,498.2 L594.5,495.3 L598.5,492.4 L602.5,489.6 L606.5,486.7 L610.5,483.8 L614.5,480.9 L618.5,478.1 L622.5,475.2 L626.5,472.4 L630.5,469.6 L634.5,466.8 L638.5,464.0 L642.5,461.2 L646.5,458.4 L650.5,455.6 L654.5,452.8 L658.5,450.1 L662.5,447.4 L666.5,444.6 L670.5,441.9 L674.5,439.2 L678.5,436.6 L682.5,433.9 L686.5,431.3 L690.5,428.6 L694.5,426.0 L698.5,423.4 L702.5,420.9 L706.5,418.3 L710.5,415.8 L714.5,413.3 L718.5,410.8 L722.5,408.3 L726.5,405.9 L730.5,403.5 L734.5,401.1 L738.5,398.7 L742.5,396.3 L746.5,394.0 L750.5,391.7 L754.5,389.4 L758.5,387.2 L762.5,385.0 L766.5,382.8 L770.5,380.6 L774.5,378.5 L778.5,376.4 L782.5,374.3 L786.5,372.3 L790.5,370.3 L794.5,368.3 L798.5,366.3 L802.5,364.4 L806.5,362.6 L810.5,360.7 L814.5,358.9 L818.5,357.2 L822.5,355.5 L826.5,353.8 L830.5,352.2 L834.5,350.6 L838.5,349.0 L842.5,347.5 L846.5,346.1 L850.5,344.7 L854.5,343.3 L858.5,342.0 L862.5,340.8 L866.5,339.6 L870.5,338.4 L874.5,337.3 L878.5,336.3 L882.5,335.3 L886.5,334.4 L890.5,333.5 L894.5,332.7 L898.5,331.9 L902.5,331.2 L906.5,330.6 L910.5,330.0 L914.5,329.5 L918.5,329.1 L922.5,328.7 L926.5,328.4 L930.5,328.2 L934.5,328.0 L938.5,327.9 L942.5,327.9 L946.5,327.9 L950.5,328.0 L954.5,328.2 L958.5,328.4 L962.5,328.7 L966.5,329.0 L970.5,329.4 L974.5,329.9 L978.5,330.4 L982.5,331.0 L986.5,331.6 L990.5,332.2 L994.5,333.0 L998.5,333.8 L1002.5,334.6 L1006.5,335.5 L1010.5,336.4 L1014.5,337.3 L1018.5,338.4 L1022.5,339.4 L1026.5,340.5 L1030.5,341.7 L1034.5,342.9 L1038.5,344.1 L1042.5,345.3 L1046.5,346.6 L1050.5,348.0 L1054.5,349.4 L1058.5,350.8 L1062.5,352.2 L1066.5,353.7 L1070.5,355.2 L1074.5,356.8 L1078.5,358.3 L1082.5,360.0 L1086.5,361.6 L1090.5,363.3 L1094.5,365.0 L1098.5,366.7 L1102.5,368.5 L1106.5,370.3 L1110.5,372.2 L1114.5,374.0 L1118.5,375.9 L1122.5,377.8 L1126.5,379.8 L1130.5,381.8 L1134.5,383.8 L1138.5,385.9 L1142.5,387.9 L1146.5,390.0 L1150.5,392.2 L1154.5,394.3 L1158.5,396.5 L1162.5,398.7 L1166.5,401.0 L1170.5,403.2 L1174.5,405.5 L1178.5,407.8 L1182.5,410.2 L1186.5,412.5 L1190.5,414.9 L1194.5,417.4 L1198.5,419.8 L1202.5,422.3 L1206.5,424.8 L1210.5,427.3 L1214.5,429.8 L1218.5,432.4 L1222.5,434.9 L1226.5,437.5 L1230.5,440.2 L1234.5,442.8 L1238.5,445.5 L1242.5,448.2 L1246.5,450.9 L1250.5,453.6 L1254.5,456.3 L1258.5,459.1 L1262.5,461.8 L1266.5,464.6 L1270.5,467.4 L1274.5,470.1 L1278.5,472.9 L1282.5,475.7 L1286.5,478.5 L1290.5,481.3 L1294.5,484.1 L1298.5,486.9 L1302.5,489.8 L1306.5,492.6 L1310.5,495.4 L1314.5,498.2 L1318.5,500.9 L1322.5,503.7 L1326.5,506.4 L1330.5,509.1 L1334.5,511.8 L1338.5,514.5 L1342.5,517.2 L1346.5,519.8 L1350.5,522.4 L1354.5,525.0 L1358.5,527.6 L1362.5,530.2 L1366.5,532.7 L1370.5,535.3 L1374.5,537.9 L1378.5,540.5 L1382.5,543.0 L1386.5,545.6 L1390.5,548.2 L1394.5,550.7 L1398.5,553.3 L1402.5,555.9 L1406.5,558.4 L1410.5,561.0 L1414.5,563.5 L1418.5,566.1 L1422.5,568.6 L1426.5,571.2 L1430.5,573.7 L1434.5,576.2 L1438.5,578.8 L1442.5,581.3 L1446.5,583.8 L1450.5,586.3 L1454.5,588.8 L1458.5,591.4 L1462.5,593.9 L1466.5,596.4 L1470.5,598.9 L1474.5,601.4 L1478.5,603.9 L1482.5,606.4 L1486.5,608.9 L1490.5,611.4 L1494.5,613.9 L1498.5,616.4 L1502.5,618.9 L1506.5,621.4 L1510.5,623.9 L1514.5,626.4 L1518.5,628.9 L1522.5,631.4 L1526.5,633.9 L1530.5,636.4 L1534.5,638.9 L1538.5,641.4 L1542.5,643.9 L1546.5,646.4 L1550.5,648.9 L1554.5,651.4 L1558.5,653.9 L1562.5,656.4 L1566.5,658.9 L1570.5,661.4 L1574.5,663.9 L1578.5,666.4 L1582.5,668.9 L1586.5,671.4 L1590.5,673.9 L1594.5,676.5 L1598.5,679.0 L1602.5,681.5 L1606.5,684.0 L1610.5,686.5 L1614.5,689.1 L1618.5,691.6 L1622.5,694.1 L1626.5,696.7 L1630.5,699.2 L1634.5,701.7 L1638.5,704.3 L1642.5,706.8 L1646.5,709.4 L1650.5,711.9 L1654.5,714.5 L1658.5,717.1 L1662.5,719.6 L1666.5,722.2 L1670.5,724.8 L1674.5,727.3 L1674.8,727.5" fill="none" stroke="#008000" stroke-width="6.5" stroke-linejoin="round"/>
</g>
<path d="M335.8,1146.8v-8.1M423.2,1146.8v-8.1M485.2,1146.8v-8.1M533.3,1146.8v-8.1M572.5,1146.8v-8.1M605.8,1146.8v-8.1M634.5,1146.8v-8.1M659.9,1146.8v-8.1M831.9,1146.8v-8.1M919.3,1146.8v-8.1M981.3,1146.8v-8.1M1029.4,1146.8v-8.1M1068.6,1146.8v-8.1M1101.9,1146.8v-8.1M1130.6,1146.8v-8.1M1156.0,1146.8v-8.1M1328.0,1146.8v-8.1M1415.4,1146.8v-8.1M1477.4,1146.8v-8.1M1525.5,1146.8v-8.1M1564.7,1146.8v-8.1M1598.0,1146.8v-8.1M1626.7,1146.8v-8.1M1652.1,1146.8v-8.1M186.5,980.0h8.1M186.5,882.4h8.1M186.5,813.2h8.1M186.5,759.5h8.1M186.5,715.6h8.1M186.5,678.5h8.1M186.5,646.4h8.1M186.5,618.0h8.1M186.5,425.8h8.1M186.5,328.3h8.1M186.5,259.0h8.1M186.5,205.3h8.1M186.5,161.4h8.1M186.5,124.3h8.1M186.5,92.2h8.1M186.5,63.9h8.1" stroke="#000" stroke-width="2.33" fill="none"/>
<path d="M682.6,1146.8v-14.6M1178.7,1146.8v-14.6M186.5,592.6h14.6" stroke="#000" stroke-width="2.9" fill="none"/>
<rect x="186.5" y="38.5" width="1488.3" height="1108.3" fill="none" stroke="#000" stroke-width="3.5"/>
<text x="145.0" y="1216.2" font-size="58.33">10<tspan x="204.3" y="1180.9" font-size="41.2">1</tspan></text>
<text x="641.1" y="1216.2" font-size="58.33">10<tspan x="700.4" y="1180.9" font-size="41.2">2</tspan></text>
<text x="1137.2" y="1216.2" font-size="58.33">10<tspan x="1196.5" y="1180.9" font-size="41.2">3</tspan></text>
<text x="1633.3" y="1216.2" font-size="58.33">10<tspan x="1692.6" y="1180.9" font-size="41.2">4</tspan></text>
<text x="87.9" y="63.5" font-size="58.33">10<tspan x="147.2" y="28.2" font-size="41.2">2</tspan></text>
<text x="89.0" y="617.6" font-size="58.33">10<tspan x="148.3" y="582.3" font-size="41.2">1</tspan></text>
<text x="88.0" y="1172.2" font-size="58.33">10<tspan x="147.3" y="1138.1" font-size="41.2">0</tspan></text>
<text x="771.0" y="1290.2" font-size="58.33">Energy [keV]</text>
<g transform="translate(57.8,869.3) rotate(-90)"><text font-size="58.33"><tspan x="0" y="0">E</tspan><tspan x="37.2" y="-22.3" font-size="46.0">2 </tspan><tspan x="77.8" y="0">N(E) [keV/cm</tspan><tspan x="415.4" y="-22.3" font-size="46.0">2 </tspan><tspan x="455.7" y="0">sec]</tspan></text></g>
<rect x="1210.4" y="67.2" width="435.2" height="182.6" rx="9.5" ry="9.5" fill="#fff" fill-opacity="0.8" stroke="#ccc" stroke-opacity="0.8" stroke-width="4"/>
<line x1="1230.2" x2="1353.6" y1="111.1" y2="111.1" stroke="#8a2be2" stroke-width="6.5"/>
<line x1="1230.2" x2="1353.6" y1="193.6" y2="193.6" stroke="#008000" stroke-width="6.5"/>
<text x="1396.5" y="131.1" font-size="58.33">Interval 1</text>
<text x="1396.5" y="213.9" font-size="58.33">Interval 2</text>
</svg></body></html>
